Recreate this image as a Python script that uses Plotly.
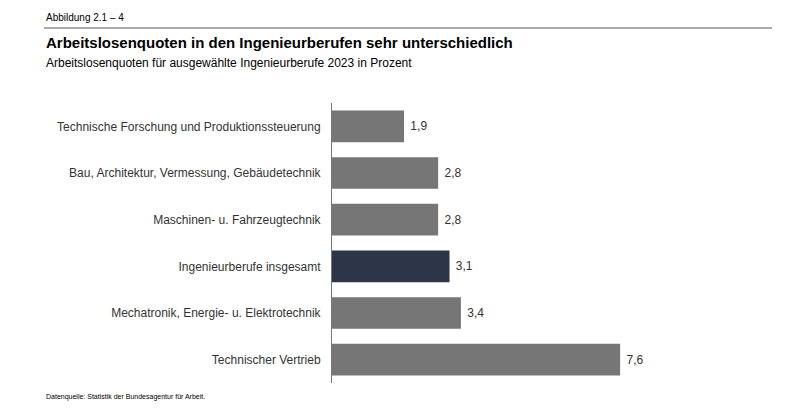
import plotly.graph_objects as go

categories = [
    "Technische Forschung und Produktionssteuerung",
    "Bau, Architektur, Vermessung, Gebäudetechnik",
    "Maschinen- u. Fahrzeugtechnik",
    "Ingenieurberufe insgesamt",
    "Mechatronik, Energie- u. Elektrotechnik",
    "Technischer Vertrieb",
]
values = [1.9, 2.8, 2.8, 3.1, 3.4, 7.6]
labels = ["1,9", "2,8", "2,8", "3,1", "3,4", "7,6"]
colors = ["#767676", "#767676", "#767676", "#2d3549", "#767676", "#767676"]

font = "Liberation Sans, Arial, sans-serif"

# the page shows the figure offset by ~8px, so work in shifted pixels
OFF = 8
ML, MR, MT, MB = 332 - OFF, 41 + OFF, 103 - OFF, 31 + OFF

fig = go.Figure(go.Bar(
    x=values, y=categories, orientation="h",
    marker=dict(color=colors, line=dict(width=0)),
    text=[" " + t for t in labels], textposition="outside", cliponaxis=False,
    textfont=dict(size=12, color="#3a3030", family=font),
    width=0.68,
))

fig.update_layout(
    width=790, height=414,
    margin=dict(l=ML, r=MR, t=MT, b=MB),
    paper_bgcolor="white", plot_bgcolor="white",
    font=dict(family=font, size=12, color="#333333"),
    showlegend=False,
    xaxis=dict(range=[0, 11], visible=False),
    yaxis=dict(autorange="reversed", showline=True, linecolor="#777777",
               linewidth=1, ticks="", ticklabelstandoff=8,
               tickfont=dict(size=12, color="#333333")),
    annotations=[
        dict(text="Abbildung 2.1 – 4", x=44, y=17,
             showarrow=False, xanchor="left", yanchor="middle",
             font=dict(size=10, color="#000000")),
        dict(text="<b>Arbeitslosenquoten in den Ingenieurberufen sehr unterschiedlich</b>",
             x=44, y=42, showarrow=False, xanchor="left", yanchor="middle",
             font=dict(size=15, color="#000000")),
        dict(text="Arbeitslosenquoten für ausgewählte Ingenieurberufe 2023 in Prozent",
             x=44, y=63, showarrow=False, xanchor="left", yanchor="middle",
             font=dict(size=12, color="#000000")),
        dict(text="Datenquelle: Statistik der Bundesagentur für Arbeit.",
             x=44, y=397, showarrow=False, xanchor="left", yanchor="middle",
             font=dict(size=7, color="#000000")),
    ],
    shapes=[dict(type="line", x0=44, x1=772, y0=28, y1=28,
                 line=dict(color="#555555", width=1.2))],
)

# annotations/shapes given in reference pixels -> convert to paper coords
pw, ph = 790 - ML - MR, 414 - MT - MB
px_ = lambda x: (x - OFF - ML) / pw
py_ = lambda y: (414 - MB - (y - OFF)) / ph
for a in fig.layout.annotations:
    a.xref = "paper"; a.yref = "paper"
    a.x = px_(a.x); a.y = py_(a.y)
for s in fig.layout.shapes:
    s.xref = "paper"; s.yref = "paper"
    s.x0 = px_(s.x0); s.x1 = px_(s.x1)
    s.y0 = py_(s.y0); s.y1 = py_(s.y1)

fig.write_html("out.html")
